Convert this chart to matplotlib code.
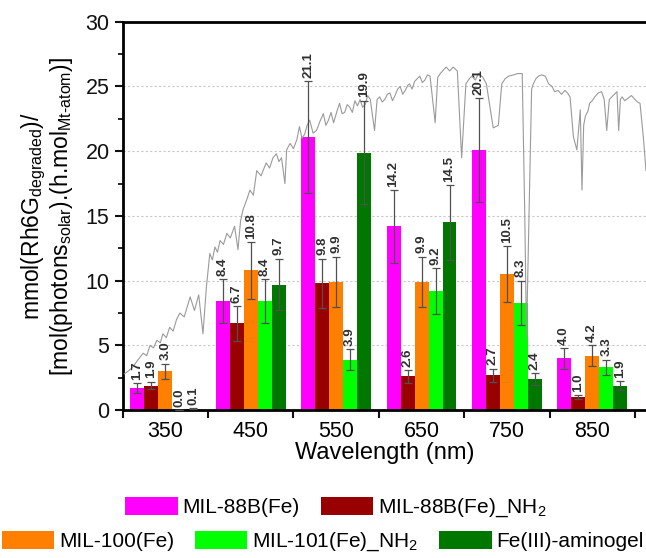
import matplotlib
matplotlib.use("Agg")
import matplotlib.pyplot as plt
from matplotlib.patches import Patch
import numpy as np

plt.rcParams['font.family'] = 'Liberation Sans'
plt.rcParams['mathtext.fontset'] = 'custom'
plt.rcParams['mathtext.rm'] = 'Liberation Sans'
plt.rcParams['mathtext.it'] = 'Liberation Sans:italic'
plt.rcParams['mathtext.bf'] = 'Liberation Sans:bold'

# photocatalytic efficiency per wavelength band
wavelengths = [350, 450, 550, 650, 750, 850]
materials = ["MIL-88B(Fe)", "MIL-88B(Fe)_NH$_2$", "MIL-100(Fe)",
             "MIL-101(Fe)_NH$_2$", "Fe(III)-aminogel"]
colors = ["#ff00ff", "#990000", "#ff8000", "#00ff00", "#007800"]

mil88b = [1.7, 8.4, 21.1, 14.2, 20.1, 4.0]
mil88b_nh2 = [1.9, 6.7, 9.8, 2.6, 2.7, 1.0]
mil100 = [3.0, 10.8, 9.9, 9.9, 10.5, 4.2]
mil101_nh2 = [0.0, 8.4, 3.9, 9.2, 8.3, 3.3]
aminogel = [0.1, 9.7, 19.9, 14.5, 2.4, 1.9]

mil88b_err = [0.4, 1.7, 4.3, 2.8, 4.0, 0.8]
mil88b_nh2_err = [0.3, 1.35, 1.9, 0.5, 0.5, 0.15]
mil100_err = [0.6, 2.2, 1.95, 1.95, 2.15, 0.8]
mil101_nh2_err = [0.0, 1.7, 0.8, 1.75, 1.7, 0.6]
aminogel_err = [0.05, 2.0, 4.0, 2.9, 0.45, 0.35]

values = [mil88b, mil88b_nh2, mil100, mil101_nh2, aminogel]
errors = [mil88b_err, mil88b_nh2_err, mil100_err, mil101_nh2_err, aminogel_err]

# solar spectrum trace (scaled to the same axis)
spec_nm = [302, 308, 312, 318, 324, 328, 332, 336, 340, 344, 347, 351, 355, 359,
           363, 367, 372, 376, 379, 384, 389, 394, 398, 402, 405, 408, 411, 414,
           418, 422, 426, 431, 435, 438, 441, 445, 449, 453, 457, 462, 468, 472,
           476, 480, 483, 486, 490, 492, 496, 500, 504, 507, 510, 513, 516, 519,
           523, 527, 531, 535, 538, 541, 544, 547, 551, 554, 557, 560, 563, 566,
           569, 572, 575, 578, 581, 584, 587, 590, 595, 598, 601, 604, 607, 610,
           613, 616, 619, 622, 625, 628, 631, 634, 636, 639, 642, 645, 648, 651,
           654, 657, 660, 666, 669, 672, 676, 679, 683, 687, 692, 697, 702, 706,
           709, 713, 717, 722, 726, 730, 734, 740, 744, 748, 752, 758, 763, 768,
           771, 773, 776, 779, 781, 784, 787, 791, 795, 799, 803, 806, 810, 814,
           818, 821, 824, 828, 832, 836, 838, 840, 842, 845, 847, 850, 853, 857,
           861, 864, 867, 870, 873, 876, 879, 881, 883, 885, 888, 892, 896, 900,
           903, 906, 910, 913]
spec_val = [2.8, 3.1, 3.35, 3.9, 4.4, 4.2, 5.0, 4.8, 5.4, 5.2, 5.9, 5.6, 6.4, 6.1,
            7.0, 7.5, 7.2, 8.1, 8.75, 7.7, 8.9, 5.9, 9.5, 12.1, 11.6, 12.6, 12.2, 13.1,
            12.8, 13.65, 13.3, 14.2, 12.4, 14.6, 15.5, 16.2, 17.0, 16.6, 18.5, 18.1, 19.1, 18.7,
            19.5, 19.8, 19.2, 19.5, 17.5, 20.1, 20.6, 20.2, 20.9, 21.9, 21.0, 21.3, 22.0, 22.4,
            21.4, 21.6, 22.3, 22.9, 22.0, 22.4, 23.0, 22.2, 23.1, 23.7, 22.9, 23.0, 23.6, 23.4,
            23.0, 23.9, 23.5, 24.0, 23.4, 23.6, 24.3, 24.0, 21.6, 24.0, 24.2, 23.8, 24.0, 24.4,
            24.5, 23.9, 24.3, 24.8, 25.0, 24.4, 24.7, 25.1, 25.2, 24.8, 25.4, 25.6, 25.8, 25.3,
            25.5, 25.9, 25.8, 22.2, 25.7, 26.0, 26.3, 26.5, 26.2, 26.5, 26.2, 19.5, 25.2, 25.6,
            25.8, 25.5, 26.0, 25.7, 25.2, 23.5, 21.8, 22.0, 25.2, 25.6, 25.8, 25.9, 26.0, 26.0,
            15.0, 5.6, 15.0, 24.8, 25.2, 25.6, 25.8, 25.9, 25.8, 25.2, 25.0, 24.6, 24.7, 24.4,
            24.7, 24.5, 24.2, 21.1, 20.1, 23.2, 17.0, 22.0, 22.7, 23.1, 23.7, 23.9, 24.2, 24.5,
            24.6, 24.0, 21.6, 24.0, 24.2, 24.4, 24.6, 21.6, 24.0, 24.2, 23.9, 24.1, 24.3, 24.0,
            23.8, 23.7, 21.0, 18.5]

fig = plt.figure(figsize=(6.46, 5.58), dpi=100)
ax = fig.add_axes([0.190, 0.265, 0.810, 0.696])

bar_w = 16.4
x = np.array(wavelengths, dtype=float)
for i, (vals, errs, c) in enumerate(zip(values, errors, colors)):
    xi = x + (i - 2) * bar_w
    ax.bar(xi, vals, width=bar_w, color=c, zorder=2, label=materials[i])
    ax.errorbar(xi, vals, yerr=errs, fmt='none', ecolor='#505050',
                elinewidth=0.9, capsize=3, capthick=0.9, zorder=4)
    for xx, v, e in zip(xi, vals, errs):
        ax.text(xx, v + e + 0.25, f"{v:.1f}", rotation=90, ha='center',
                va='bottom', fontsize=9.5, fontweight='bold', color='#303030',
                zorder=5)

ax.plot(spec_nm, spec_val, color='#9a9a9a', lw=0.8, zorder=3)

ax.set_xlim(300, 913)
ax.set_ylim(0, 30)
ax.set_xticks(range(300, 1000, 100))
ax.set_xticklabels([])
ax.set_xticks(wavelengths, minor=True)
ax.set_xticklabels([str(w) for w in wavelengths], minor=True)
ax.set_yticks(range(0, 31, 5))
ax.set_yticks(np.arange(0, 30.1, 2.5), minor=True)

ax.tick_params(axis='both', which='major', direction='out', length=6,
               width=1.5, labelsize=15.5, colors='#111111')
ax.tick_params(axis='y', which='minor', direction='out', length=3.5, width=1.2)
ax.tick_params(axis='x', which='minor', length=0, labelsize=15.5, pad=8)

ax.yaxis.grid(True, which='major', linestyle=(0, (2, 2)), color='#c8c8c8',
              lw=0.8, zorder=0)
ax.set_axisbelow(True)

for s in ['left', 'bottom', 'top']:
    ax.spines[s].set_linewidth(2)
ax.spines['right'].set_visible(False)

ax.set_xlabel("Wavelength (nm)", fontsize=17, labelpad=0)
ax.set_ylabel("mmol(Rh6G$_{\\mathrm{degraded}}$)/\n"
              "[mol(photons$_{\\mathrm{solar}}$).(h.mol$_{\\mathrm{Mt\\text{-}atom}}$)]",
              fontsize=16.5, linespacing=1.0)
ax.yaxis.set_label_coords(-0.092, 0.5)

handles = [Patch(facecolor=c, label=m) for c, m in zip(colors, materials)]
leg_kw = dict(frameon=False, fontsize=15, handlelength=2.5, handleheight=1.0,
              handletextpad=0.25, columnspacing=1.0, borderpad=0,
              borderaxespad=0)
fig.legend(handles=handles[:2], loc='center', ncol=2,
           bbox_to_anchor=(336 / 646, 1 - 508 / 558), **leg_kw)
fig.legend(handles=handles[2:], loc='center', ncol=3,
           bbox_to_anchor=(323 / 646, 1 - 542 / 558), **leg_kw)

fig.savefig("out.png", dpi=100)
